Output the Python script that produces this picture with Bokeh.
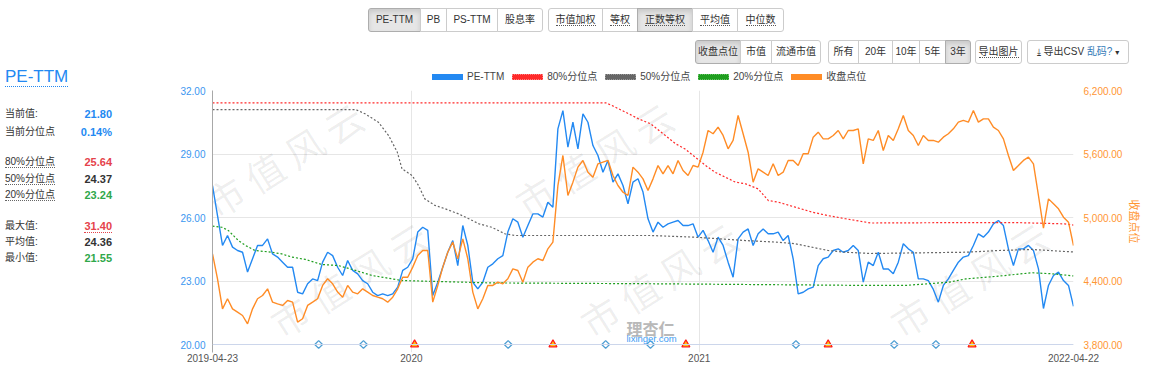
import math
import pandas as pd
from bokeh.plotting import figure
from bokeh.models import (ColumnDataSource, Range1d, LinearAxis, FixedTicker,
                          NumeralTickFormatter, Label, Div, Span)
from bokeh.layouts import column, row
from bokeh.embed import file_html
from bokeh.resources import INLINE

# ---------------- data ----------------
start_date = "2019-04-23"
end_date = "2022-04-22"

pe_ttm = [
    27.51, 26.09, 24.68, 25.15, 24.60, 24.44, 24.36, 23.42, 24.05, 24.68, 24.68, 24.99, 24.28, 24.13, 23.89,
    23.65, 23.65, 22.47, 22.39, 22.87, 23.10, 23.02, 23.89, 24.36, 24.20, 23.65, 23.26, 23.97, 23.50, 23.34,
    23.02, 22.87, 22.47, 22.31, 22.39, 22.31, 22.39, 22.71, 23.50, 23.65, 24.05, 25.31, 25.54, 25.39,
    22.31, 22.94, 23.65, 24.36, 24.91, 23.73, 25.62, 24.68, 22.94, 22.63, 22.94, 23.65, 23.81, 24.05, 24.20,
    25.31, 25.94, 25.78, 25.07, 25.62, 26.17, 26.17, 26.02, 26.72, 26.49, 30.19, 31.05, 29.32, 30.50, 29.24,
    30.90, 30.50, 29.40, 28.93, 28.14, 28.69, 27.67, 28.06, 27.51, 26.65, 27.67, 27.83, 27.20, 25.94,
    25.31, 25.78, 25.54, 25.70, 25.78, 25.86, 25.62, 25.62, 25.70, 25.07, 25.39, 24.91, 24.36, 25.07, 24.68,
    23.89, 23.18, 24.99, 25.31, 25.46, 24.68, 25.23, 25.46, 25.23, 25.23, 25.31, 24.91, 25.15, 24.05, 22.39,
    22.47, 22.63, 22.71, 23.73, 24.05, 24.13, 24.44, 24.52, 24.36, 24.44, 24.68, 24.44, 22.95, 23.89,
    23.73, 24.36, 23.57, 23.57, 23.34, 23.89, 24.76, 24.52, 24.36, 23.10, 23.10, 23.02, 22.60, 22.00, 22.79,
    23.10, 23.50, 23.89, 24.13, 24.20, 24.68, 25.23, 25.07, 25.31, 25.70, 25.86, 25.62, 24.52, 23.73, 24.52,
    24.52, 24.68, 24.44, 23.57, 21.70, 22.79, 23.26, 23.42, 23.02, 22.79, 21.80,
]

close_pts = [
    4657, 4421, 4137, 4232, 4137, 4106, 4074, 3995, 4137, 4232, 4263, 4326, 4200, 4184, 4169,
    4216, 4200, 4011, 4043, 4169, 4200, 4232, 4358, 4421, 4373, 4295, 4247, 4358, 4295, 4279,
    4326, 4295, 4263, 4247, 4232, 4200, 4247, 4326, 4436, 4436, 4531, 4641, 4688, 4688,
    4200, 4358, 4531, 4672, 4767, 4610, 4798, 4610, 4295, 4137, 4232, 4358, 4358, 4389, 4373,
    4421, 4515, 4499, 4389, 4531, 4578, 4610, 4594, 4704, 4767, 5302, 5586, 5208, 5334, 5476,
    5539, 5428, 5381, 5507, 5523, 5539, 5397, 5302, 5239, 5208, 5476, 5428, 5365, 5255,
    5365, 5491, 5413, 5491, 5413, 5539, 5444, 5397, 5491, 5476, 5617, 5822, 5791, 5854, 5775,
    5649, 5728, 5964, 5791, 5617, 5334, 5460, 5428, 5397, 5507, 5397, 5428, 5539, 5539, 5491,
    5602, 5602, 5759, 5806, 5743, 5743, 5775, 5822, 5743, 5822, 5822, 5838, 5507, 5743,
    5728, 5822, 5633, 5775, 5728, 5838, 5964, 5822, 5775, 5680, 5775, 5728, 5728, 5712, 5759,
    5791, 5838, 5901, 5917, 5901, 6011, 5901, 5932, 5932, 5854, 5822, 5743, 5586, 5444, 5491,
    5539, 5570, 5507, 5208, 4900, 5176, 5129, 5082, 5003, 4956, 4735,
]

p80_dates = ["2019-04-23", "2020-09-04", "2020-09-12", "2020-09-29", "2020-10-16", "2020-10-31",
             "2020-11-19", "2020-12-02", "2020-12-14", "2020-12-27", "2021-01-09", "2021-01-21",
             "2021-02-03", "2021-02-16", "2021-03-01", "2021-03-17", "2021-03-30", "2021-04-12",
             "2021-05-03", "2021-05-25", "2021-06-14", "2021-07-06", "2021-08-07", "2021-12-06",
             "2022-02-07", "2022-04-11", "2022-04-22"]
p80_vals = [31.42, 31.42, 31.29, 30.98, 30.66, 30.43, 29.87, 29.48, 29.24, 28.85, 28.46, 28.14,
            27.91, 27.67, 27.59, 27.35, 26.80, 26.72, 26.49, 26.25, 26.09, 25.94, 25.74, 25.76,
            25.76, 25.70, 25.64]

p50_dates = ["2019-04-23", "2019-10-22", "2019-11-03", "2019-11-20", "2019-12-03", "2019-12-14",
             "2019-12-20", "2020-01-02", "2020-01-10", "2020-01-18", "2020-01-31", "2020-02-13",
             "2020-03-01", "2020-03-14", "2020-03-27", "2020-04-12", "2020-04-29", "2020-05-12",
             "2020-10-31", "2020-12-27", "2021-03-01", "2021-04-12", "2021-05-03", "2021-05-24",
             "2021-06-14", "2021-07-06", "2021-08-07", "2021-12-06", "2022-01-17", "2022-02-28",
             "2022-04-22"]
p50_vals = [31.10, 31.10, 30.90, 30.50, 29.87, 29.09, 28.30, 27.98, 27.51, 26.88, 26.57, 26.41,
            26.17, 25.94, 25.70, 25.54, 25.23, 25.15, 25.15, 25.07, 24.91, 24.83, 24.76, 24.60,
            24.44, 24.36, 24.30, 24.36, 24.44, 24.49, 24.37]

p20_dates = ["2019-04-23", "2019-05-05", "2019-05-13", "2019-05-26", "2019-06-04", "2019-06-16",
             "2019-07-07", "2019-07-20", "2019-08-02", "2019-08-19", "2019-09-09", "2019-09-30",
             "2019-10-22", "2019-11-12", "2019-12-03", "2019-12-20", "2020-04-12", "2020-10-31",
             "2021-08-07", "2021-09-20", "2021-11-14", "2021-12-06", "2022-01-17", "2022-02-28",
             "2022-03-26", "2022-04-22"]
p20_vals = [25.59, 25.54, 25.39, 24.91, 24.68, 24.44, 24.36, 24.28, 24.13, 24.02, 23.78, 23.73,
            23.50, 23.26, 23.13, 23.02, 22.91, 22.87, 22.79, 22.79, 22.94, 23.10, 23.23, 23.39,
            23.34, 23.24]

diamond_dates = ["2019-09-05", "2019-11-01", "2020-05-03", "2020-09-04", "2020-10-31",
                 "2021-05-04", "2021-09-06", "2021-10-29"]
triangle_dates = ["2020-01-05", "2020-06-29", "2020-12-15", "2021-06-14", "2021-12-14"]

pe_ticks = [20, 23, 26, 29, 32]
close_ticks = [3800, 4400, 5000, 5600, 6200]
x_tick_dates = ["2019-04-23", "2020-01-01", "2021-01-01", "2022-04-22"]
x_tick_labels = ["2019-04-23", "2020", "2021", "2022-04-22"]

legend_labels = ["PE-TTM", "80%分位点", "50%分位点", "20%分位点", "收盘点位"]

stat_names = ["当前值:", "当前分位点", "80%分位点", "50%分位点", "20%分位点", "最大值:", "平均值:", "最小值:"]
stat_values = ["21.80", "0.14%", "25.64", "24.37", "23.24", "31.40", "24.36", "21.55"]

# ---------------- styling ----------------
BLUE = "#2389f2"
ORANGE = "#ff8c26"
RED = "#ff2a2a"
GREY = "#666666"
GREEN = "#1f9e1f"
FONT = "'Liberation Sans', 'Noto Sans CJK SC', sans-serif"
CJK = "'Noto Sans CJK SC'"

# page geometry (page px)
LEFT_W = 165
TOP_H = 84
FIG_W, FIG_H = 1153 - LEFT_W, 391 - TOP_H
FRAME_L, FRAME_T, FRAME_R = 212, 90, 1073
PAD_PX = 8
UNIT_PX = 254  # pixels between lowest and highest tick

pe_min, pe_max = pe_ticks[0], pe_ticks[-1]
cl_min, cl_max = close_ticks[0], close_ticks[-1]
pad_pe = (pe_max - pe_min) * PAD_PX / UNIT_PX
pad_cl = (cl_max - cl_min) * PAD_PX / UNIT_PX
FRAME_B = FRAME_T + UNIT_PX + PAD_PX  # 352

p = figure(width=FIG_W, height=FIG_H, x_axis_type="datetime", output_backend="svg",
           toolbar_location=None,
           x_range=Range1d(pd.Timestamp(start_date), pd.Timestamp(end_date)),
           y_range=Range1d(pe_min - pad_pe, pe_max),
           min_border_left=FRAME_L - LEFT_W, min_border_right=1153 - FRAME_R,
           min_border_top=FRAME_T - TOP_H, min_border_bottom=391 - FRAME_B,
           background_fill_color="white", border_fill_color="white")
p.outline_line_color = None
p.extra_y_ranges = {"close": Range1d(cl_min - pad_cl, cl_max)}

x_ticks_ms = [pd.Timestamp(d).value / 1e6 for d in x_tick_dates]
overrides = {}
for t, lab in zip(x_ticks_ms, x_tick_labels):
    overrides[t] = lab
    overrides[str(int(t))] = lab

xa = p.xaxis[0]
xa.ticker = FixedTicker(ticks=x_ticks_ms)
xa.major_label_overrides = overrides
xa.axis_line_color = None
xa.major_tick_line_color = None
xa.minor_tick_line_color = None
xa.major_tick_out = 0
xa.major_label_standoff = 1
xa.major_label_text_font = FONT
xa.major_label_text_font_size = "10px"
xa.major_label_text_color = "#555555"

ya = p.yaxis[0]
ya.ticker = FixedTicker(ticks=pe_ticks)
ya.formatter = NumeralTickFormatter(format="0.00")
ya.axis_line_color = "#a8a8a8"
ya.major_tick_line_color = None
ya.minor_tick_line_color = None
ya.major_tick_out = 0
ya.major_label_standoff = 7
ya.major_label_text_font = FONT
ya.major_label_text_font_size = "10px"
ya.major_label_text_color = "#3b96f0"

ra = LinearAxis(y_range_name="close", ticker=FixedTicker(ticks=close_ticks),
                formatter=NumeralTickFormatter(format="0,0.00"), axis_label="收盘点位")
ra.axis_line_color = None
ra.major_tick_line_color = None
ra.minor_tick_line_color = None
ra.major_tick_out = 0
ra.major_label_standoff = 10
ra.major_label_text_font = FONT
ra.major_label_text_font_size = "10px"
ra.major_label_text_color = "#ff9633"
ra.axis_label_text_font = FONT
ra.axis_label_text_font_size = "11px"
ra.axis_label_text_font_style = "normal"
ra.axis_label_text_color = "#ff9633"
ra.axis_label_standoff = 3
p.add_layout(ra, "right")

p.xgrid.ticker = FixedTicker(ticks=x_ticks_ms)
p.xgrid.grid_line_color = "#e6e6e6"
p.ygrid.ticker = FixedTicker(ticks=pe_ticks)
p.ygrid.grid_line_color = "#e6e6e6"
p.add_layout(Span(location=pe_min, dimension="width", line_color="#ccd6eb", line_width=1))

# ---------------- watermarks (only the ones that fit inside the chart canvas) ----------------
WM_TEXT = "市 值 风 云"
WM_ANGLE = 32
wm_centres = []
for i, j in [(0, 0), (1, 0), (0, 1), (1, 1), (2, 1)]:
    cx = 225 + 310 * i + 65 * j
    cy = 195 + 120 * j
    wm_centres.append((cx, cy))
for cx, cy in wm_centres:
    p.add_layout(Label(x=cx - 17 - FRAME_L, y=FRAME_B - (cy + 10.6), x_units="screen", y_units="screen",
                       text=WM_TEXT, angle=math.radians(WM_ANGLE), text_align="left",
                       text_baseline="middle", text_font_size="38px", text_font=CJK,
                       text_color="#000000", text_alpha=0.07, level="underlay"))

# ---------------- series ----------------
dates = pd.date_range(start_date, end_date, periods=len(pe_ttm))
src = ColumnDataSource(dict(date=dates, pe=pe_ttm, close=close_pts))

p.line("date", "pe", source=src, line_color=BLUE, line_width=1.4)
p.line(x=pd.to_datetime(p80_dates), y=p80_vals, line_color=RED, line_width=1.2, line_dash="2 2")
p.line(x=pd.to_datetime(p50_dates), y=p50_vals, line_color=GREY, line_width=1.2, line_dash="2 2")
p.line(x=pd.to_datetime(p20_dates), y=p20_vals, line_color=GREEN, line_width=1.2, line_dash="2 2")
p.line("date", "close", source=src, line_color=ORANGE, line_width=1.4, y_range_name="close")

p.scatter(x=pd.to_datetime(diamond_dates), y=[pe_min] * len(diamond_dates), marker="square",
          angle=math.pi / 4, size=5.5, fill_color="white", line_color="#4f9fd4", line_width=1.3)
p.scatter(x=pd.to_datetime(triangle_dates), y=[pe_min] * len(triangle_dates), marker="triangle",
          size=8, fill_color="#ffc20e", line_color="#ff1a1a", line_width=1.2)

# logo
p.add_layout(Label(x=650 - FRAME_L, y=FRAME_B - 327, x_units="screen", y_units="screen",
                   text="理杏仁", text_align="center", text_baseline="alphabetic",
                   text_font_size="16px", text_font=CJK, text_font_style="bold",
                   text_color="#b9b9b9"))
p.add_layout(Label(x=651 - FRAME_L, y=FRAME_B - 338, x_units="screen", y_units="screen",
                   text="lixinger.com", text_align="center", text_baseline="alphabetic",
                   text_font_size="9.5px", text_font=FONT, text_color="#3d9df5"))

# ---------------- HTML parts ----------------
def button_group(items_, y0, y1, underline, offx):
    html = ""
    n = len(items_)
    h = y1 - y0
    for k, (txt, x0, x1, active) in enumerate(items_):
        rl = 3 if k == 0 else 0
        rr = 3 if k == n - 1 else 0
        bg = "#e6e6e6" if active else "#ffffff"
        bd = "#adadad" if active else "#cccccc"
        sh = "box-shadow:inset 0 3px 5px rgba(0,0,0,0.125);" if active else ""
        lab = f'<span style="border-bottom:1px dotted #555;">{txt}</span>' if underline else txt
        html += (f'<div style="position:absolute;left:{x0 - offx}px;top:{y0}px;width:{x1 - x0 + 1}px;'
                 f'height:{h}px;box-sizing:border-box;border:1px solid {bd};'
                 f'border-radius:{rl}px {rr}px {rr}px {rl}px;background:{bg};{sh}'
                 f'font-size:10px;line-height:{h - 2}px;text-align:center;color:#333;'
                 f'white-space:nowrap;">{lab}</div>')
    return html


row1_a = [("PE-TTM", 368, 420, True), ("PB", 420, 446, False), ("PS-TTM", 446, 497, False),
          ("股息率", 497, 542, False)]
row1_b = [("市值加权", 548, 602, False), ("等权", 602, 637, False), ("正数等权", 637, 692, True),
          ("平均值", 692, 737, False), ("中位数", 737, 783, False)]
row2_a = [("收盘点位", 695, 740, True), ("市值", 740, 771, False), ("流通市值", 771, 820, False)]
row2_b = [("所有", 828, 858, False), ("20年", 858, 892, False), ("10年", 892, 919, False),
          ("5年", 919, 945, False), ("3年", 945, 970, True)]
row2_c = [("导出图片", 975, 1021, False)]
csv_html = ('<span style="font-family:\'DejaVu Sans\';font-size:9px;">&#x2913;</span> 导出CSV '
            '<span style="color:#337ab7;">乱码?</span> '
            '<span style="font-family:\'DejaVu Sans\';font-size:8px;">&#x25BE;</span>')
row2_d = [(csv_html, 1027, 1128, False)]

# legend (html, flowing like the chart library's legend)
leg_colors = [BLUE, RED, GREY, GREEN, ORANGE]
leg_border = [BLUE, "#ff8080", "#999999", "#66c266", ORANGE]
leg_dotted = [False, True, True, True, False]
legend_html = (f'<div style="position:absolute;left:{432 - LEFT_W}px;top:70px;height:14px;'
               f'display:flex;align-items:center;white-space:nowrap;font-size:10px;color:#444;">')
for lab, col, bcol, dot in zip(legend_labels, leg_colors, leg_border, leg_dotted):
    bstyle = "dotted" if dot else "solid"
    legend_html += (f'<span style="display:inline-block;width:31px;height:6px;background:{col};'
                    f'border:1px {bstyle} {bcol};margin-right:4px;"></span>'
                    f'<span style="margin-right:8px;line-height:14px;">{lab}</span>')
legend_html += '</div>'

top_html = (f'<div style="position:relative;width:{FIG_W}px;height:{TOP_H}px;overflow:hidden;'
            f'font-family:{FONT};background:#fff;">'
            + button_group(row1_a, 8, 32, False, LEFT_W) + button_group(row1_b, 8, 32, True, LEFT_W)
            + button_group(row2_a, 40, 64, False, LEFT_W) + button_group(row2_b, 40, 64, False, LEFT_W)
            + button_group(row2_c, 40, 64, True, LEFT_W) + button_group(row2_d, 40, 64, False, LEFT_W)
            + legend_html + '</div>')

val_colors = [BLUE, BLUE, "#e5434b", "#333333", "#2fa84a", "#e5434b", "#333333", "#2fa84a"]
row_tops = [107, 125, 155, 172, 188, 219, 235, 251]
name_underline = [False, False, True, True, True, False, False, False]
val_underline = [False, False, False, False, False, True, False, False]

left_html = (f'<div style="position:relative;width:{LEFT_W}px;height:391px;overflow:hidden;'
             f'font-family:{FONT};background:#fff;">'
             f'<div style="position:absolute;left:5px;top:68px;font-size:17px;line-height:17px;'
             f'color:{BLUE};white-space:nowrap;"><span style="border-bottom:1px dotted {BLUE};">'
             f'PE-TTM</span></div>')
for nm, vl, col, top, nu, vu in zip(stat_names, stat_values, val_colors, row_tops,
                                    name_underline, val_underline):
    nm_html = f'<span style="border-bottom:1px dotted #666;">{nm}</span>' if nu else nm
    vl_html = f'<span style="border-bottom:1px dotted {col};">{vl}</span>' if vu else vl
    left_html += (f'<div style="position:absolute;left:5px;top:{top}px;font-size:10px;'
                  f'line-height:14px;color:#333;white-space:nowrap;">{nm_html}</div>'
                  f'<div style="position:absolute;left:50px;width:62px;top:{top}px;font-size:11px;'
                  f'line-height:14px;font-weight:bold;text-align:right;color:{col};">{vl_html}</div>')
left_html += '</div>'

top_div = Div(text=top_html, width=FIG_W, height=TOP_H, margin=0, styles={"overflow": "hidden"})
left_div = Div(text=left_html, width=LEFT_W, height=391, margin=0, styles={"overflow": "hidden"})
p.margin = 0

layout = row(left_div, column(top_div, p, spacing=0), spacing=0)

open("out.html", "w").write(file_html(layout, INLINE))
